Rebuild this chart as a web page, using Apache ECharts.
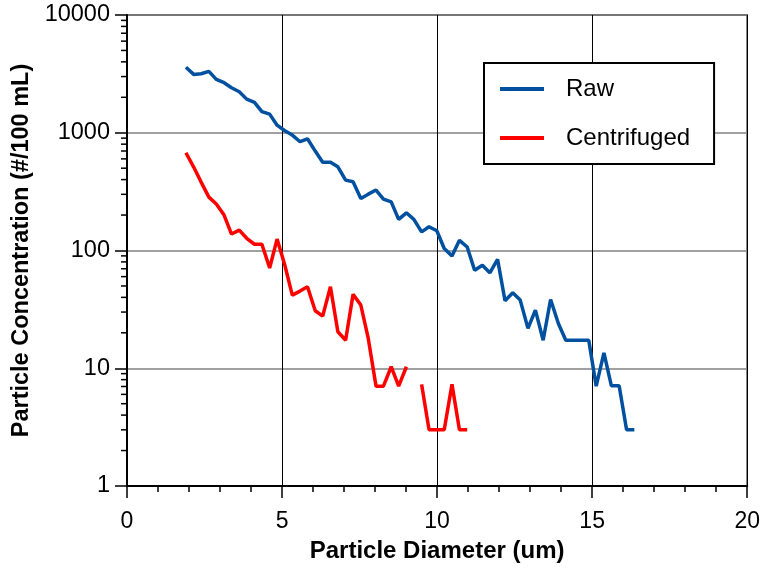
<!DOCTYPE html>
<html>
<head>
<meta charset="utf-8">
<script src="https://cdn.jsdelivr.net/npm/echarts@6/dist/echarts.min.js"></script>
<style>
  html, body { margin: 0; padding: 0; background: #fff; }
  #chart { width: 763px; height: 569px; }
</style>
</head>
<body>
<div id="chart"></div>
<script>
// Particle diameter bins (um)
const diameters = [
  1.90, 2.15, 2.39, 2.64, 2.88, 3.13, 3.37, 3.62, 3.86, 4.11,
  4.35, 4.60, 4.84, 5.09, 5.33, 5.58, 5.82, 6.07, 6.31, 6.56,
  6.80, 7.05, 7.29, 7.54, 7.78, 8.03, 8.27, 8.52, 8.76, 9.01,
  9.25, 9.50, 9.74, 9.99, 10.23, 10.48, 10.72, 10.97, 11.21, 11.46,
  11.70, 11.95, 12.19, 12.44, 12.68, 12.93, 13.17, 13.42, 13.66, 13.91,
  14.15, 14.40, 14.64, 14.89, 15.13, 15.38, 15.62, 15.87, 16.11, 16.36
];

// Concentrations (#/100 mL)
const rawConc = [
  3600, 3130, 3170, 3320, 2840, 2660, 2410, 2230, 1930, 1810,
  1510, 1440, 1160, 1040, 956, 839, 889, 699, 561, 561,
  514, 396, 384, 277, 301, 326, 273, 259, 184, 209,
  184, 144, 159, 147, 104, 89.6, 122, 107, 68, 75,
  64.7, 84, 37.4, 43.7, 37.9, 21.8, 31.2, 17.3, 38.4, 24,
  17.3, 17.3, 17.3, 17.3, 7.05, 13.5, 7.1, 7.1, 3.0, 3.0
];

const centrifugedConc = [
  676, 511, 381, 284, 248, 200, 138, 149, 127, 113,
  113, 71, 125, 75, 41.8, 45.2, 49.2, 30.8, 27.7, 49.2,
  20.4, 17.3, 42.4, 34.4, 17.9, 7.05, 7.05, 10.3, 7.05, 10.3,
  null, 7.3, 3.0, 3.0, 3.0, 7.3, 3.0, 3.0
];

// Log-scale minor tick values on the concentration axis
const minorTickValues = [];
[1, 10, 100, 1000].forEach(function (d) {
  for (let m = 2; m <= 9; m++) minorTickValues.push(m * d);
});

const FONT = "'Liberation Sans', Arial, sans-serif";

function pairs(xs, ys) {
  return ys.map(function (y, i) { return [xs[i], y]; });
}

const chart = echarts.init(document.getElementById('chart'), null, { renderer: 'canvas' });

chart.setOption({
  animation: false,
  backgroundColor: '#ffffff',
  grid: {
    left: 127, right: 15, top: 15, bottom: 83,
    show: true, borderColor: '#222', borderWidth: 1.5, backgroundColor: 'transparent'
  },
  legend: {
    left: 484, top: 63,
    orient: 'vertical',
    backgroundColor: '#ffffff',
    borderColor: '#000',
    borderWidth: 2,
    padding: [13, 24, 13, 16],
    itemWidth: 44,
    itemHeight: 4,
    itemGap: 23,
    icon: 'rect',
    textStyle: { fontFamily: FONT, fontSize: 24, color: '#000', lineHeight: 26, padding: [0, 0, 0, 17] },
    data: ['Raw', 'Centrifuged']
  },
  xAxis: {
    type: 'value',
    min: 0, max: 20, interval: 5,
    name: 'Particle Diameter (um)',
    nameLocation: 'middle',
    nameGap: 53,
    nameTextStyle: { fontFamily: FONT, fontSize: 24, fontWeight: 'bold', color: '#000' },
    axisLine: { show: true, onZero: false, lineStyle: { color: '#000', width: 2 } },
    axisTick: { show: true, inside: false, length: 12, lineStyle: { color: '#000', width: 1.5 } },
    minorTick: { show: true, splitNumber: 5, length: 6, lineStyle: { color: '#000', width: 1.5 } },
    axisLabel: { fontFamily: FONT, fontSize: 23, color: '#000', margin: 24 },
    splitLine: { show: true, lineStyle: { color: '#000', width: 1 } }
  },
  yAxis: {
    type: 'log',
    logBase: 10,
    min: 1, max: 10000,
    name: 'Particle Concentration (#/100 mL)',
    nameLocation: 'middle',
    nameGap: 92,
    nameTextStyle: { fontFamily: FONT, fontSize: 23.5, fontWeight: 'bold', color: '#000' },
    axisLine: { show: true, lineStyle: { color: '#000', width: 2 } },
    axisTick: { show: true, inside: false, length: 12, lineStyle: { color: '#000', width: 1.5 } },
    axisLabel: {
      fontFamily: FONT, fontSize: 23.5, color: '#000', margin: 17,
      formatter: function (v) { return String(Math.round(v)); }
    },
    splitLine: { show: true, lineStyle: { color: '#808080', width: 1.5 } }
  },
  series: [
    {
      name: 'Raw',
      type: 'line',
      data: pairs(diameters, rawConc),
      showSymbol: false,
      symbol: 'none',
      lineStyle: { color: '#0050A0', width: 3.5 },
      itemStyle: { color: '#0050A0' },
      z: 3
    },
    {
      name: 'Centrifuged',
      type: 'line',
      data: pairs(diameters, centrifugedConc),
      showSymbol: false,
      symbol: 'none',
      connectNulls: false,
      lineStyle: { color: '#FF0000', width: 3.5 },
      itemStyle: { color: '#FF0000' },
      z: 3
    },
    {
      // minor ticks for the logarithmic concentration axis
      type: 'custom',
      silent: true,
      clip: false,
      data: minorTickValues.map(function (v) { return [0, v]; }),
      renderItem: function (params, api) {
        const p = api.coord([0, api.value(1)]);
        return {
          type: 'line',
          shape: { x1: p[0] - 6, y1: p[1], x2: p[0], y2: p[1] },
          style: { stroke: '#000', lineWidth: 1.5 }
        };
      },
      z: 4
    }
  ]
});
</script>
</body>
</html>
